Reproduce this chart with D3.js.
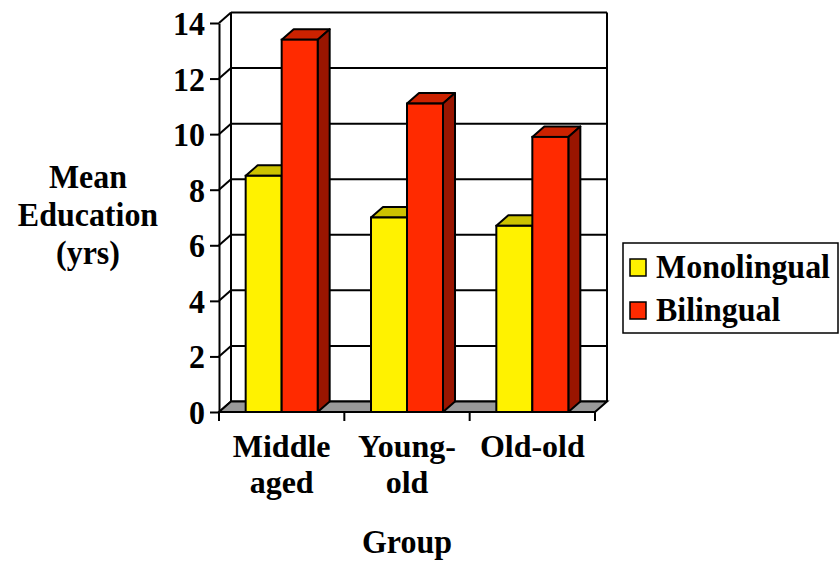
<!DOCTYPE html>
<html>
<head>
<meta charset="utf-8">
<script src="https://cdn.jsdelivr.net/npm/d3@7"></script>
<style>
  html, body { margin: 0; padding: 0; background: #fff; }
  svg { display: block; }
  text { font-family: "Liberation Serif", "Times New Roman", serif; font-weight: bold; fill: #000; }
</style>
</head>
<body>
<svg id="chart" width="840" height="567"></svg>
<script>
// Mean years of education by age group and language status
const categories = ["Middle aged", "Young-old", "Old-old"];
const categoryLines = [["Middle", "aged"], ["Young-", "old"], ["Old-old"]];
const seriesNames = ["Monolingual", "Bilingual"];
const monolingual = [8.5, 7.0, 6.7];
const bilingual = [13.4, 11.1, 9.9];
const yTicks = [0, 2, 4, 6, 8, 10, 12, 14];

const seriesValues = [monolingual, bilingual];
const palette = [
  { front: "#FFF200", top: "#CCC200", side: "#999100" },
  { front: "#FF2A00", top: "#CC2200", side: "#991500" }
];

const svg = d3.select("#chart");
const FONT = 34;
const SX = 0.94; // narrow, tall serif lettering

// plot frame: front plane plus a receding depth offset
const plotL = 219, plotR = 595, plotB = 412, plotT = 23;
const depthX = 12, depthY = -10.5;

const y = d3.scaleLinear().domain([0, 14]).range([plotB, plotT]);
const x = d3.scaleBand().domain(categories).range([plotL, plotR]).padding(0);
const barW = 36;
const xSub = d3.scaleBand().domain(seriesNames).range([0, barW * 2]).padding(0);

const ink = "#000";
const lw = 2;

// text helper: positioned by transform so it can be narrowed horizontally
function label(parent, px, py, lines, anchor, lineGap, size, sx) {
  const g = parent.append("g");
  lines.forEach((ln, i) => {
    g.append("text")
      .attr("transform", `translate(${px},${py + i * lineGap}) scale(${sx || SX},1)`)
      .attr("text-anchor", anchor).attr("font-size", size || FONT)
      .text(ln);
  });
  return g;
}

// back wall gridlines
const wall = svg.append("g");
wall.selectAll("line.grid").data(yTicks).join("line")
  .attr("class", "grid")
  .attr("x1", plotL + depthX).attr("x2", plotR + depthX)
  .attr("y1", d => y(d) + depthY).attr("y2", d => y(d) + depthY)
  .attr("stroke", ink).attr("stroke-width", lw);
// back wall edges
[plotL + depthX, plotR + depthX].forEach(xx => {
  wall.append("line")
    .attr("x1", xx).attr("x2", xx)
    .attr("y1", y(14) + depthY).attr("y2", y(0) + depthY)
    .attr("stroke", ink).attr("stroke-width", lw);
});
// side wall connectors from the front axis to the back wall
wall.selectAll("line.conn").data(yTicks).join("line")
  .attr("class", "conn")
  .attr("x1", plotL).attr("x2", plotL + depthX)
  .attr("y1", d => y(d)).attr("y2", d => y(d) + depthY)
  .attr("stroke", ink).attr("stroke-width", lw);

// floor
svg.append("path")
  .attr("d", `M${plotL},${y(0)} L${plotR},${y(0)} L${plotR + depthX},${y(0) + depthY} L${plotL + depthX},${y(0) + depthY} Z`)
  .attr("fill", "#999999").attr("stroke", ink).attr("stroke-width", lw);

// bars
const bars = svg.append("g");
categories.forEach((cat, ci) => {
  const cx = x(cat) + x.bandwidth() / 2 - barW;
  seriesNames.forEach((s, si) => {
    const v = seriesValues[si][ci];
    const x0 = cx + xSub(s), x1 = x0 + xSub.bandwidth();
    const yt = y(v), yb = y(0);
    const col = palette[si];
    const g = bars.append("g");
    g.append("path")
      .attr("d", `M${x0},${yt} L${x0 + depthX},${yt + depthY} L${x1 + depthX},${yt + depthY} L${x1},${yt} Z`)
      .attr("fill", col.top).attr("stroke", ink).attr("stroke-width", lw).attr("stroke-linejoin", "round");
    g.append("path")
      .attr("d", `M${x1},${yt} L${x1 + depthX},${yt + depthY} L${x1 + depthX},${yb + depthY} L${x1},${yb} Z`)
      .attr("fill", col.side).attr("stroke", ink).attr("stroke-width", lw).attr("stroke-linejoin", "round");
    g.append("rect")
      .attr("x", x0).attr("y", yt).attr("width", x1 - x0).attr("height", yb - yt)
      .attr("fill", col.front).attr("stroke", ink).attr("stroke-width", lw);
  });
});

// y axis on the front plane
const yAxis = svg.append("g")
  .attr("transform", `translate(${plotL},0)`)
  .call(d3.axisLeft(y).tickValues(yTicks).tickSize(9).tickSizeOuter(0).tickPadding(5).tickFormat(d3.format("d")));
yAxis.attr("font-family", null).attr("font-size", null);
yAxis.selectAll("path.domain").attr("stroke", ink).attr("stroke-width", lw);
yAxis.selectAll(".tick line").attr("stroke", ink).attr("stroke-width", lw);
yAxis.selectAll(".tick text")
  .attr("font-size", FONT).attr("fill", ink)
  .attr("dy", null).attr("x", 0).attr("y", 0)
  .attr("transform", `translate(-14,11.5) scale(${SX},1)`);

// category tick marks at band boundaries
const bounds = categories.map(c => x(c)).concat([plotR]);
svg.append("g").selectAll("line").data(bounds).join("line")
  .attr("x1", d => d).attr("x2", d => d)
  .attr("y1", y(0)).attr("y2", y(0) + 9)
  .attr("stroke", ink).attr("stroke-width", lw);

// category labels
const catG = svg.append("g");
categories.forEach((cat, ci) => {
  label(catG, x(cat) + x.bandwidth() / 2, 457, categoryLines[ci], "middle", 35.5, 32, 1.0);
});

// axis titles
label(svg, 407, 553, ["Group"], "middle", 0);
label(svg, 88, 188, ["Mean", "Education", "(yrs)"], "middle", 38);

// legend
const legend = svg.append("g");
legend.append("rect").attr("x", 623).attr("y", 243).attr("width", 215).attr("height", 90)
  .attr("fill", "#fff").attr("stroke", ink).attr("stroke-width", 1.5);
seriesNames.forEach((s, i) => {
  const yy = 259 + i * 43;
  legend.append("rect").attr("x", 630).attr("y", yy).attr("width", 16).attr("height", 17)
    .attr("fill", palette[i].front).attr("stroke", ink).attr("stroke-width", 1.5);
  label(legend, 656, yy + 19, [s], "start", 0);
});
</script>
</body>
</html>
